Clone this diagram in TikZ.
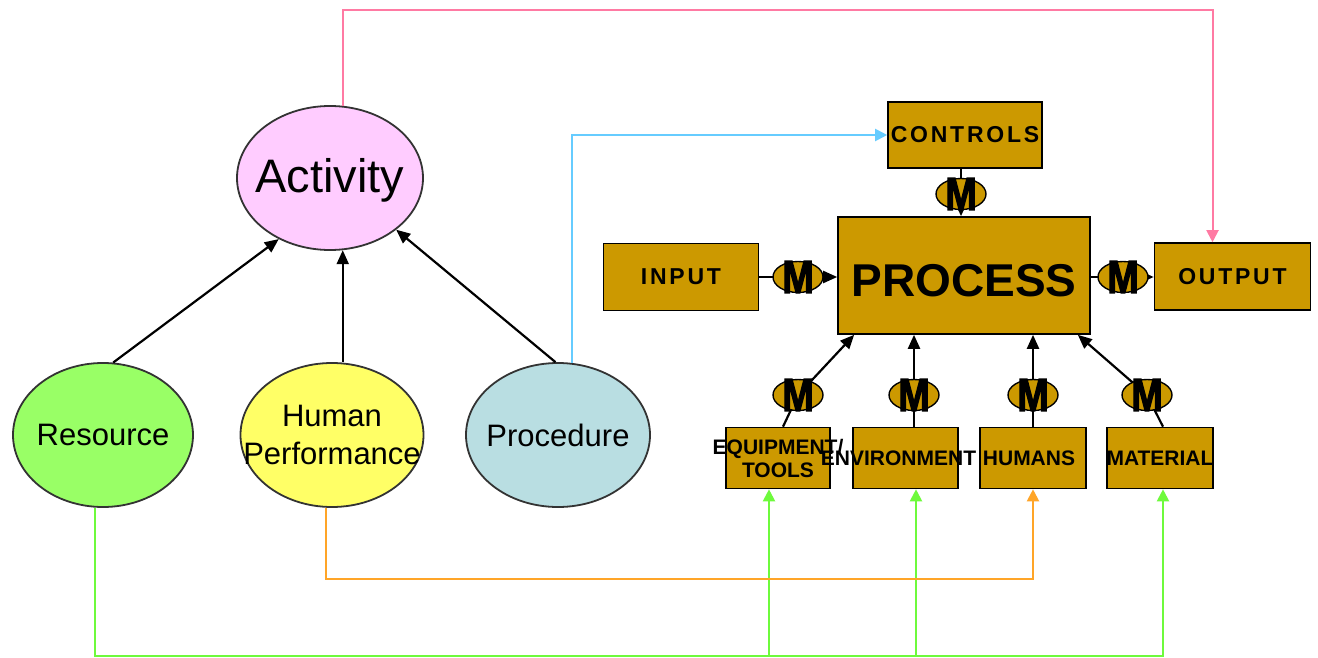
\documentclass[tikz,border=0pt]{standalone}
\usepackage{fontspec}
\setmainfont{Liberation Sans}
\newfontfamily\labelfont{Liberation Sans}[LetterSpace=12]
\newfontfamily\heavyfont{Liberation Sans}[BoldFeatures={FakeBold=3}]
\usetikzlibrary{shapes.geometric,arrows.meta}

\definecolor{gold}{RGB}{204,153,0}
\definecolor{actpink}{RGB}{255,204,255}
\definecolor{resgreen}{RGB}{153,255,102}
\definecolor{humyellow}{RGB}{255,255,102}
\definecolor{procblue}{RGB}{185,222,226}
\definecolor{pinkline}{RGB}{255,122,163}
\definecolor{blueline}{RGB}{102,204,255}
\definecolor{greenline}{RGB}{110,250,60}
\definecolor{orangeline}{RGB}{255,165,40}

\newcommand\mglyph{\scalebox{0.82}[1]{M}}

\begin{document}
\begin{tikzpicture}[x=1pt,y=-1pt,
  bubble/.style={ellipse,draw=black!80,line width=1.8pt,inner sep=0pt,minimum height=144pt},
  bubbletext/.style={font=\fontsize{31}{38}\selectfont,align=center,inner sep=0pt},
  box/.style={rectangle,draw=black,line width=1.6pt,fill=gold,inner sep=0pt},
  boxtext/.style={font=\fontsize{23}{26}\labelfont\bfseries},
  smalltext/.style={font=\fontsize{21}{23}\selectfont\bfseries,align=center,inner sep=0pt},
  mnode/.style={ellipse,draw=black,line width=1.4pt,fill=gold,minimum width=50pt,minimum height=31pt,inner sep=0pt,
     label={[font=\fontsize{46}{46}\heavyfont\bfseries,inner sep=0pt]center:\mglyph}},
  link/.style={line width=2.2pt,-{Triangle[length=14pt,width=12pt]}},
  wire/.style={line width=2pt,-{Triangle[length=12pt,width=12pt]}},
]
\useasboundingbox[fill=white] (0,0) rectangle (1318,658);

% the activity and its three contributing factors
\node[bubble,fill=actpink,minimum width=186pt,
  label={[font=\fontsize{47}{50}\selectfont,inner sep=0pt,yshift=-2pt]center:Activity}] (activity) at (330,178) {};
\node[bubble,fill=resgreen,minimum width=180pt,
  label={[bubbletext]center:Resource}] (resource) at (103,435) {};
\node[bubble,fill=humyellow,minimum width=183pt,
  label={[bubbletext]center:Human\\Performance}] (human) at (332,435) {};
\node[bubble,fill=procblue,minimum width=184pt,
  label={[bubbletext]center:Procedure}] (procedure) at (558,435) {};

% process block and its neighbours
\node[box,minimum width=154pt,minimum height=66pt,boxtext] (controls) at (965,135) {CONTROLS};
\node[box,minimum width=252pt,minimum height=117pt,font=\fontsize{46}{48}\selectfont\bfseries,
  text height=42pt,text depth=0pt] (process) at (964,275.5) {PROCESS};
\node[box,minimum width=155pt,minimum height=67pt,boxtext] (input) at (681,277) {INPUT};
\node[box,minimum width=156pt,minimum height=67pt,boxtext] (output) at (1232.5,276.5) {OUTPUT};

\node[box,minimum width=104pt,minimum height=61pt,
  label={[smalltext]center:EQUIPMENT/\\TOOLS}] (equip) at (778,458) {};
\node[box,minimum width=105pt,minimum height=61pt,
  label={[smalltext,xshift=-7pt]center:ENVIRONMENT}] (env) at (905.5,458) {};
\node[box,minimum width=106pt,minimum height=61pt,
  label={[smalltext,xshift=-4pt]center:HUMANS}] (humans) at (1033,458) {};
\node[box,minimum width=106pt,minimum height=61pt,
  label={[smalltext]center:MATERIAL}] (material) at (1160,458) {};

% measurement points on the process connectors
\coordinate (mcp) at (961,194);
\coordinate (mip) at (798,277);
\coordinate (mpo) at (1123,277);
\coordinate (mep) at (798,395);
\coordinate (mvp) at (914,395);
\coordinate (mhp) at (1033,395);
\coordinate (mmp) at (1147,395);

\draw[link] (mcp |- controls.south) -- (mcp) -- (mcp |- process.north);
\draw[link] (input.east) -- (mip) -- (mip -| process.west);
\draw[link] (process.east |- mpo) -- (mpo) -- (mpo -| output.west);
\draw[link] ([xshift=5pt]equip.north) -- (mep) -- ([xshift=17pt]process.south west);
\draw[link] (mvp |- env.north) -- (mvp) -- (mvp |- process.south);
\draw[link] (humans.north) -- (mhp) -- (mhp |- process.south);
\draw[link] ([xshift=3pt]material.north) -- (mmp) -- ([xshift=-13pt]process.south east);

\node[mnode] (mc) at (mcp) {};
\node[mnode] (mi) at (mip) {};
\node[mnode] (mo) at (mpo) {};
\node[mnode] (me) at (mep) {};
\node[mnode] (mv) at (mvp) {};
\node[mnode] (mh) at (mhp) {};
\node[mnode] (mm) at (mmp) {};

% factors feeding the activity
\draw[link] (resource.82) -- (activity.-130);
\draw[link] (activity.-80 |- human.north) -- (activity.-80);
\draw[link] (procedure.92) -- (activity.-38);

% coloured links between the two halves
\coordinate (toprail) at (0,10);
\coordinate (midrail) at (0,579);
\coordinate (lowrail) at (0,656);
\coordinate (outin) at ([xshift=-20pt]output.north);
\coordinate (equipin) at ([xshift=-9pt]equip.south);
\coordinate (envin) at ([xshift=10.5pt]env.south);
\coordinate (matin) at ([xshift=3pt]material.south);

\draw[wire,pinkline] (activity.80) -- (activity.80 |- toprail) -| (outin);
\draw[wire,blueline] (procedure.79) |- (controls.west);
\draw[wire,greenline] (resource.-96) -- (resource.-96 |- lowrail) -| (matin);
\draw[wire,greenline] (equipin |- lowrail) -- (equipin);
\draw[wire,greenline] (envin |- lowrail) -- (envin);
\draw[wire,orangeline] (human.-95) -- (human.-95 |- midrail) -| (humans.south);
\end{tikzpicture}
\end{document}
